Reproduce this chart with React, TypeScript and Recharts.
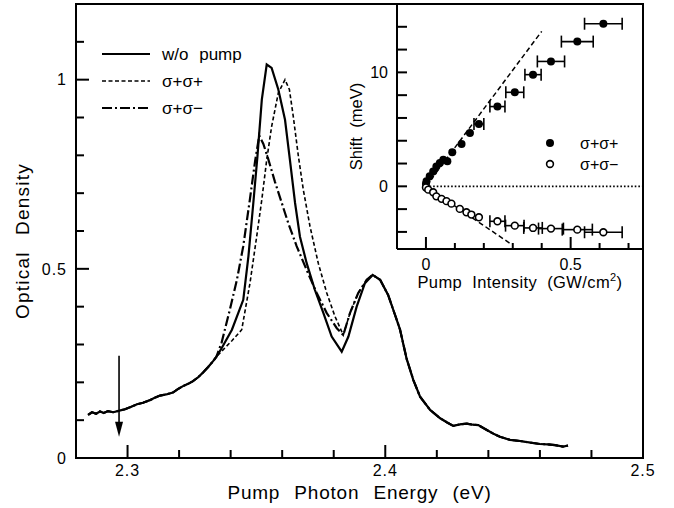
import React from 'react';
import {
  LineChart, Line, XAxis, YAxis, ReferenceLine, ReferenceDot, ReferenceArea,
  Legend, Label, ComposedChart, Scatter, ErrorBar,
} from 'recharts';

const FONT = '"Liberation Sans", Arial, Helvetica, sans-serif';
const INK = '#000';
const AXIS = { stroke: INK, strokeWidth: 2 };

// ---- main panel: optical density vs pump photon energy (eV) ----
// the three spectra lie on top of each other on the low-energy wing
const sharedWing = [
  [2.2847, 0.114], [2.2862, 0.121], [2.2878, 0.117], [2.2893, 0.123], [2.2908, 0.119],
  [2.2924, 0.124], [2.2944, 0.121], [2.299, 0.129], [2.3012, 0.135], [2.3037, 0.142],
  [2.306, 0.146], [2.3087, 0.153], [2.3105, 0.159], [2.3126, 0.165], [2.315, 0.168],
  [2.3176, 0.173], [2.3195, 0.182], [2.3215, 0.19], [2.3235, 0.196], [2.3254, 0.203],
  [2.3275, 0.214], [2.3293, 0.226], [2.3312, 0.24], [2.3332, 0.256], [2.3345, 0.268],
];
const woPumpPeak = [
  [2.3365, 0.29], [2.3405, 0.339], [2.3449, 0.418], [2.3469, 0.533], [2.3488, 0.674],
  [2.3504, 0.797], [2.3521, 0.947], [2.354, 1.04], [2.3559, 1.031], [2.3585, 0.974],
  [2.3611, 0.894], [2.363, 0.788], [2.365, 0.674], [2.3669, 0.585], [2.3695, 0.515],
  [2.3727, 0.444], [2.376, 0.383], [2.3792, 0.321], [2.3831, 0.281], [2.3857, 0.321],
  [2.3889, 0.4], [2.3921, 0.462], [2.3951, 0.484],
];
const coCircPeak = [ // σ+σ+
  [2.3365, 0.282], [2.3405, 0.31], [2.3443, 0.339], [2.3475, 0.462], [2.3501, 0.585],
  [2.3521, 0.683], [2.354, 0.788], [2.3559, 0.876], [2.3585, 0.965], [2.3611, 1.0],
  [2.3628, 0.974], [2.3643, 0.903], [2.3663, 0.797], [2.3682, 0.709], [2.3708, 0.612],
  [2.374, 0.515], [2.3773, 0.436], [2.3805, 0.374], [2.3837, 0.325],
];
const counterCircPeak = [ // σ+σ−
  [2.3365, 0.305], [2.3398, 0.395], [2.3424, 0.47], [2.3449, 0.56], [2.3475, 0.685],
  [2.3495, 0.785], [2.3511, 0.852], [2.3527, 0.83], [2.3546, 0.79], [2.3572, 0.73],
  [2.3598, 0.675], [2.3624, 0.62], [2.3656, 0.56], [2.3695, 0.497], [2.3734, 0.436],
  [2.3773, 0.383], [2.3812, 0.343], [2.3837, 0.325],
];
// both pumped spectra climb back to the second peak together
const pumpedRise = [[2.3863, 0.383], [2.3895, 0.436], [2.3928, 0.471], [2.3951, 0.484]];
const sharedTail = [
  [2.398, 0.471], [2.4011, 0.431], [2.4038, 0.378], [2.4057, 0.34], [2.4083, 0.262],
  [2.4109, 0.206], [2.4135, 0.162], [2.4174, 0.127], [2.4213, 0.105], [2.424, 0.094],
  [2.4264, 0.085], [2.429, 0.089], [2.4316, 0.091], [2.434, 0.088], [2.4361, 0.087],
  [2.4394, 0.074], [2.442, 0.064], [2.4445, 0.056], [2.4484, 0.048], [2.4523, 0.045],
  [2.456, 0.041], [2.46, 0.037], [2.463, 0.036], [2.4659, 0.034], [2.469, 0.03], [2.4709, 0.033],
];

const energyTicks = [2.3, 2.32, 2.34, 2.36, 2.38, 2.4, 2.42, 2.44, 2.46, 2.48, 2.5];
const energyLabels = [2.3, 2.4, 2.5];
const odTicks = [0, 0.1, 0.2, 0.3, 0.4, 0.5, 0.6, 0.7, 0.8, 0.9, 1, 1.1];
const odLabels = [0, 0.5, 1];
const pumpArrow = { e: 2.2967, top: 0.27, tip: 0.056 };

// ---- inset: shift (meV) vs pump intensity (GW/cm2) ----
const coIntensity = [0, 0.002, 0.013, 0.025, 0.036, 0.048, 0.06, 0.074, 0.091, 0.123, 0.152, 0.183, 0.247, 0.307, 0.37, 0.432, 0.523, 0.613];
const coShift = [0.2, 0.44, 0.88, 1.3, 1.75, 2.05, 2.34, 2.2, 2.98, 3.72, 4.68, 5.47, 7.0, 8.25, 9.8, 10.96, 12.7, 14.27];
const coErr = [0, 0, 0, 0, 0, 0, 0, 0, 0, 0, 0, 0.017, 0.026, 0.031, 0.028, 0.047, 0.055, 0.065];
const counterIntensity = [0, 0.008, 0.025, 0.036, 0.054, 0.071, 0.088, 0.117, 0.14, 0.157, 0.183, 0.247, 0.307, 0.37, 0.432, 0.523, 0.613];
const counterShift = [-0.1, -0.29, -0.52, -0.88, -1.1, -1.3, -1.52, -1.98, -2.28, -2.48, -2.72, -3.07, -3.45, -3.65, -3.71, -3.8, -4.03];
const counterErr = [0, 0, 0, 0, 0, 0, 0, 0, 0, 0, 0, 0.026, 0.032, 0.032, 0.043, 0.052, 0.065];
const coFit = [[0, 0], [0.4, 13.6]];
const counterFit = [[0, 0], [0.296, -5.1]];

const intensityTicks = [0, 0.1, 0.2, 0.3, 0.4, 0.5, 0.6, 0.7];
const intensityLabels = [0, 0.5];
const shiftTicks = [-4, -2, 0, 2, 4, 6, 8, 10, 12, 14];
const shiftLabels = [0, 10];

const toSpectrum = (pts: number[][]) => pts.map(([e, od]) => ({ e, od }));
const toShift = (xs: number[], ys: number[], errs: number[]) =>
  xs.map((i, k) => ({ i, s: ys[k], err: errs[k] }));

const spectra = [
  { name: 'w/o pump', width: 2.2, dash: undefined, data: toSpectrum([...sharedWing, ...woPumpPeak, ...sharedTail]) },
  { name: 'σ+σ+', width: 1.6, dash: '4 2.5', data: toSpectrum([...sharedWing, ...coCircPeak, ...pumpedRise, ...sharedTail]) },
  { name: 'σ+σ−', width: 2.2, dash: '10 3 2 3', data: toSpectrum([...sharedWing, ...counterCircPeak, ...pumpedRise, ...sharedTail]) },
];

type Side = 'bottom' | 'top' | 'left' | 'right';
interface TickStyle {
  side: Side; major: number[]; majorLen: number; minorLen: number; gap: number;
  text?: boolean; fontSize?: number; spacing?: number;
}

const near = (v: number, list: number[]) => list.some((m) => Math.abs(m - v) < 1e-6);
const fmt = (v: number) => `${+v.toFixed(2)}`;

// ticks point inward; tickSize is 0 so the axis line sits `gap` px from the label anchor
const tickRenderer = (s: TickStyle) => (props: any) => {
  const { x, y, payload } = props;
  const v = payload.value as number;
  const major = near(v, s.major);
  const len = major ? s.majorLen : s.minorLen;
  const txt = { fill: INK, stroke: 'none', fontSize: s.fontSize ?? 16, fontFamily: FONT, letterSpacing: s.spacing ?? 0 };
  const showText = major && s.text;
  let line = null;
  let label = null;
  if (s.side === 'bottom') {
    const a = y - s.gap;
    line = <line x1={x} x2={x} y1={a} y2={a - len} />;
    if (showText) label = <text x={x} y={y} dy="0.72em" textAnchor="middle" {...txt}>{fmt(v)}</text>;
  } else if (s.side === 'top') {
    const a = y + s.gap;
    line = <line x1={x} x2={x} y1={a} y2={a + len} />;
  } else if (s.side === 'left') {
    const a = x + s.gap;
    line = <line x1={a} x2={a + len} y1={y} y2={y} />;
    if (showText) label = <text x={x} y={y} dy="0.36em" textAnchor="end" {...txt}>{fmt(v)}</text>;
  } else {
    const a = x - s.gap;
    line = <line x1={a} x2={a - len} y1={y} y2={y} />;
  }
  return (
    <g>
      <g stroke={INK} strokeWidth={2}>{line}</g>
      {label}
    </g>
  );
};

const Arrowhead = (p: any) => (
  <polygon points={`${p.cx - 4},${p.cy - 15} ${p.cx + 4},${p.cy - 15} ${p.cx},${p.cy}`} fill={INK} />
);
const FilledDot = (p: any) => <circle cx={p.cx} cy={p.cy} r={4} fill={INK} />;
const OpenDot = (p: any) => <circle cx={p.cx} cy={p.cy} r={3.4} fill="#fff" stroke={INK} strokeWidth={1.6} />;

const titleStyle = { fill: INK, fontFamily: FONT };

const App: React.FC = () => {
  const coPts = toShift(coIntensity, coShift, coErr);
  const counterPts = toShift(counterIntensity, counterShift, counterErr);
  const coFitPts = coFit.map(([i, s]) => ({ i, s }));
  const counterFitPts = counterFit.map(([i, s]) => ({ i, s }));

  return (
    <div style={{ position: 'absolute', left: 0, top: 0, width: 674, height: 508, background: '#fff', fontFamily: FONT }}>
      <LineChart width={674} height={508} margin={{ top: 4, right: 31, bottom: 0, left: 0 }}>
        <XAxis
          type="number" dataKey="e" domain={[2.28, 2.5]} allowDataOverflow ticks={energyTicks} interval={0}
          height={50} tickSize={0} tickMargin={6} tickLine={false} axisLine={AXIS}
          tick={tickRenderer({ side: 'bottom', major: energyLabels, majorLen: 13, minorLen: 8, gap: 6, text: true, fontSize: 16, spacing: 1 })}
        >
          <Label
            content={(p: any) => (
              <text x={p.viewBox.x + p.viewBox.width / 2} y={p.viewBox.y + 41} textAnchor="middle"
                fontSize={19} letterSpacing={0.8} wordSpacing={8} {...titleStyle}>
                Pump Photon Energy (eV)
              </text>
            )}
          />
        </XAxis>
        <YAxis
          type="number" dataKey="od" domain={[0, 1.2]} allowDataOverflow ticks={odTicks} interval={0}
          width={76} tickSize={0} tickMargin={9} tickLine={false} axisLine={AXIS}
          tick={tickRenderer({ side: 'left', major: odLabels, majorLen: 13, minorLen: 8, gap: 9, text: true, fontSize: 16, spacing: 1 })}
        >
          <Label
            content={(p: any) => {
              const cx = p.viewBox.x + 22;
              const cy = p.viewBox.y + p.viewBox.height / 2 + 10;
              return (
                <text x={cx} y={cy} transform={`rotate(-90, ${cx}, ${cy})`} textAnchor="middle" dominantBaseline="central"
                  fontSize={19} letterSpacing={1.2} wordSpacing={10} {...titleStyle}>
                  Optical Density
                </text>
              );
            }}
          />
        </YAxis>
        <ReferenceArea x1={2.28} x2={2.5} y1={0} y2={1.2} fill="none" stroke={INK} strokeWidth={2} />
        {spectra.map((s) => (
          <Line
            key={s.name} data={s.data} dataKey="od" name={s.name} type="linear"
            stroke={INK} strokeWidth={s.width} strokeDasharray={s.dash}
            dot={false} activeDot={false} isAnimationActive={false}
          />
        ))}
        <ReferenceLine
          segment={[{ x: pumpArrow.e, y: pumpArrow.top }, { x: pumpArrow.e, y: pumpArrow.tip + 0.02 }]}
          stroke={INK} strokeWidth={1.6}
        />
        <ReferenceDot x={pumpArrow.e} y={pumpArrow.tip} r={0} shape={Arrowhead} />
        <Legend
          layout="vertical" align="center" verticalAlign="middle"
          wrapperStyle={{ left: 100, top: 44, width: 180, height: 76 }}
          content={() => (
            <svg width={180} height={76}>
              {spectra.map((s, k) => (
                <g key={s.name} transform={`translate(0, ${10 + k * 27})`}>
                  <line x1={2} x2={50} y1={0} y2={0} stroke={INK} strokeWidth={s.width} strokeDasharray={s.dash} />
                  <text x={62} y={0} dy="0.36em" fontSize={17} wordSpacing={6} {...titleStyle}>{s.name}</text>
                </g>
              ))}
            </svg>
          )}
        />
      </LineChart>

      <div style={{ position: 'absolute', left: 335, top: 0 }}>
        <ComposedChart width={339} height={300} margin={{ top: 4, right: 31, bottom: 0, left: 0 }}>
          <XAxis
            xAxisId="i" type="number" dataKey="i" domain={[-0.1, 0.75]} allowDataOverflow ticks={intensityTicks} interval={0}
            height={51} tickSize={0} tickMargin={9} tickLine={false} axisLine={AXIS}
            tick={tickRenderer({ side: 'bottom', major: intensityLabels, majorLen: 12, minorLen: 6, gap: 9, text: true, fontSize: 16 })}
          >
            <Label
              content={(p: any) => (
                <text x={p.viewBox.x + p.viewBox.width / 2} y={p.viewBox.y + 39} textAnchor="middle"
                  fontSize={16.5} letterSpacing={0.4} wordSpacing={5} {...titleStyle}>
                  Pump Intensity (GW/cm<tspan dy={-7} fontSize={11}>2</tspan><tspan dy={7}>)</tspan>
                </text>
              )}
            />
          </XAxis>
          <XAxis
            xAxisId="iTop" orientation="top" type="number" domain={[-0.1, 0.75]} allowDataOverflow ticks={intensityTicks} interval={0}
            height={0} tickSize={0} tickMargin={0} tickLine={false} axisLine={AXIS}
            tick={tickRenderer({ side: 'top', major: intensityLabels, majorLen: 6, minorLen: 6, gap: 0 })}
          />
          <YAxis
            yAxisId="s" type="number" dataKey="s" domain={[-5.5, 16]} allowDataOverflow ticks={shiftTicks} interval={0}
            width={62} tickSize={0} tickMargin={9} tickLine={false} axisLine={AXIS}
            tick={tickRenderer({ side: 'left', major: shiftLabels, majorLen: 10, minorLen: 10, gap: 9, text: true, fontSize: 16 })}
          >
            <Label
              content={(p: any) => {
                const cx = p.viewBox.x + 21;
                const cy = p.viewBox.y + p.viewBox.height / 2;
                return (
                  <text x={cx} y={cy} transform={`rotate(-90, ${cx}, ${cy})`} textAnchor="middle" dominantBaseline="central"
                    fontSize={16.5} wordSpacing={5} {...titleStyle}>
                    Shift (meV)
                  </text>
                );
              }}
            />
          </YAxis>
          <YAxis
            yAxisId="sRight" orientation="right" type="number" domain={[-5.5, 16]} allowDataOverflow ticks={shiftTicks} interval={0}
            width={0} tickSize={0} tickMargin={0} tickLine={false} axisLine={AXIS}
            tick={tickRenderer({ side: 'right', major: shiftLabels, majorLen: 12, minorLen: 8, gap: 0 })}
          />
          <ReferenceLine
            xAxisId="i" yAxisId="s" segment={[{ x: 0, y: 0 }, { x: 0.75, y: 0 }]}
            stroke={INK} strokeWidth={1.6} strokeDasharray="1.6 2"
          />
          <Line xAxisId="i" yAxisId="s" data={coFitPts} dataKey="s" type="linear" stroke={INK} strokeWidth={1.5}
            strokeDasharray="5 3" dot={false} activeDot={false} isAnimationActive={false} />
          <Line xAxisId="i" yAxisId="s" data={counterFitPts} dataKey="s" type="linear" stroke={INK} strokeWidth={1.5}
            strokeDasharray="5 3" dot={false} activeDot={false} isAnimationActive={false} />
          <Scatter xAxisId="i" yAxisId="s" name="σ+σ+" data={coPts} dataKey="s" shape={FilledDot} isAnimationActive={false}>
            <ErrorBar dataKey="err" direction="x" width={6} stroke={INK} strokeWidth={1.6} />
          </Scatter>
          <Scatter xAxisId="i" yAxisId="s" name="σ+σ−" data={counterPts} dataKey="s" shape={OpenDot} isAnimationActive={false}>
            <ErrorBar dataKey="err" direction="x" width={6} stroke={INK} strokeWidth={1.6} />
          </Scatter>
          <Legend
            layout="vertical" align="center" verticalAlign="middle"
            wrapperStyle={{ left: 205, top: 130, width: 100, height: 46 }}
            content={() => (
              <svg width={100} height={46}>
                <circle cx={10} cy={13} r={4} fill={INK} />
                <text x={40} y={13} dy="0.36em" fontSize={16} {...titleStyle}>σ+σ+</text>
                <circle cx={10} cy={34} r={3.4} fill="#fff" stroke={INK} strokeWidth={1.6} />
                <text x={40} y={34} dy="0.36em" fontSize={16} {...titleStyle}>σ+σ−</text>
              </svg>
            )}
          />
        </ComposedChart>
      </div>
    </div>
  );
};

export default App;
